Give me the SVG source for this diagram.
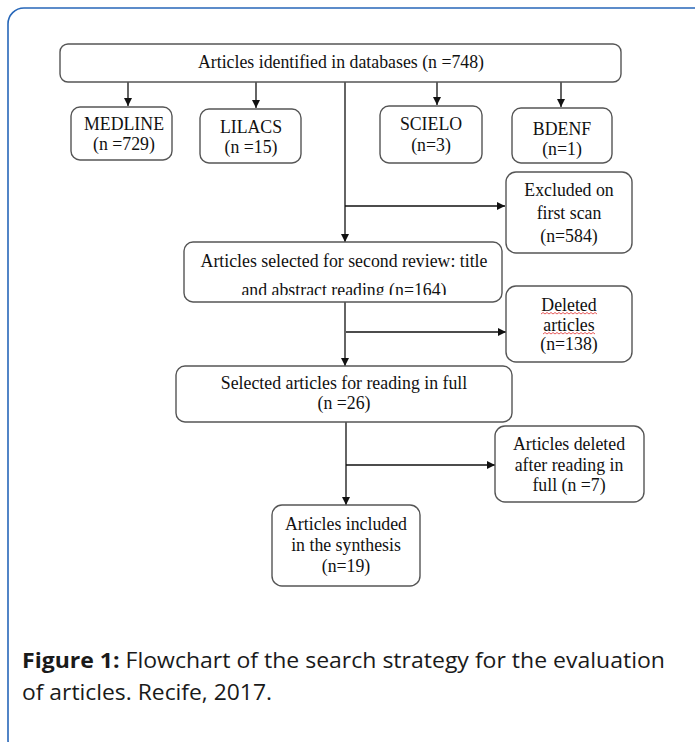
<svg xmlns="http://www.w3.org/2000/svg" width="695" height="742" viewBox="0 0 695 742">
<defs>
<style>
.frame{fill:#fff;stroke:#2767b9;stroke-width:1.6}
.box{fill:#fff;stroke:#555;stroke-width:1.4}
.t{font-family:"Liberation Serif","Times New Roman",serif;font-size:17.8px;fill:#111;text-anchor:middle}
.ln{stroke:#111;stroke-width:1.3;fill:none}
.cap{font-family:"Open Sans","Noto Sans",sans-serif;font-size:21.5px;fill:#1a1a1a}
.sq{stroke:#e03030;stroke-width:0.8;fill:none}
</style>
<marker id="ah" viewBox="0 0 10 10" refX="10" refY="5" markerWidth="8" markerHeight="8" markerUnits="userSpaceOnUse" orient="auto">
<path d="M0,0 L10,5 L0,10 z" fill="#111"/>
</marker>
<clipPath id="clip2"><rect x="184" y="242" width="318" height="53"/></clipPath>
</defs>
<rect class="frame" x="8" y="8" width="705" height="748" rx="16"/>

<g id="connectors">
<line class="ln" x1="128" y1="82" x2="128" y2="106" marker-end="url(#ah)"/>
<line class="ln" x1="256" y1="82" x2="256" y2="108" marker-end="url(#ah)"/>
<line class="ln" x1="437" y1="82" x2="437" y2="105" marker-end="url(#ah)"/>
<line class="ln" x1="561" y1="82" x2="561" y2="107" marker-end="url(#ah)"/>
<line class="ln" x1="345" y1="82" x2="345" y2="242" marker-end="url(#ah)"/>
<line class="ln" x1="345" y1="206" x2="505" y2="206" marker-end="url(#ah)"/>
<line class="ln" x1="345" y1="302" x2="345" y2="366" marker-end="url(#ah)"/>
<line class="ln" x1="346" y1="332" x2="506" y2="332" marker-end="url(#ah)"/>
<line class="ln" x1="346" y1="422" x2="346" y2="505" marker-end="url(#ah)"/>
<line class="ln" x1="346" y1="465" x2="495" y2="465" marker-end="url(#ah)"/>
</g>

<g id="identified">
<rect class="box" x="60" y="44" width="561" height="38" rx="8"/>
<text class="t" x="341" y="68">Articles identified in databases (n =748)</text>
</g>
<g id="medline">
<rect class="box" x="71" y="107" width="101" height="53" rx="9"/>
<text class="t" x="124" y="130">MEDLINE</text>
<text class="t" x="124" y="150">(n =729)</text>
</g>
<g id="lilacs">
<rect class="box" x="200" y="109" width="101" height="54" rx="9"/>
<text class="t" x="251" y="133">LILACS</text>
<text class="t" x="251" y="153">(n =15)</text>
</g>
<g id="scielo">
<rect class="box" x="380" y="106" width="102" height="57" rx="9"/>
<text class="t" x="431" y="130">SCIELO</text>
<text class="t" x="431" y="151">(n=3)</text>
</g>
<g id="bdenf">
<rect class="box" x="512" y="108" width="100" height="55" rx="9"/>
<text class="t" x="562" y="135">BDENF</text>
<text class="t" x="562" y="155">(n=1)</text>
</g>
<g id="excluded">
<rect class="box" x="506" y="172" width="126" height="81" rx="10"/>
<text class="t" x="569" y="196">Excluded on</text>
<text class="t" x="569" y="219">first scan</text>
<text class="t" x="569" y="242">(n=584)</text>
</g>
<g id="second">
<rect class="box" x="184" y="242" width="318" height="60" rx="9"/>
<text class="t" x="344" y="267">Articles selected for second review: title</text>
<text class="t" x="344" y="296" clip-path="url(#clip2)">and abstract reading (n=164)</text>
</g>
<g id="deleted">
<rect class="box" x="506" y="286" width="126" height="76" rx="10"/>
<text class="t" x="569" y="311">Deleted</text>
<text class="t" x="569" y="331">articles</text>
<text class="t" x="569" y="350">(n=138)</text>
<path class="sq" d="M541,314 l2,-1.5 l2,1.5 l2,-1.5 l2,1.5 l2,-1.5 l2,1.5 l2,-1.5 l2,1.5 l2,-1.5 l2,1.5 l2,-1.5 l2,1.5 l2,-1.5 l2,1.5 l2,-1.5 l2,1.5 l2,-1.5 l2,1.5 l2,-1.5 l2,1.5 l2,-1.5 l2,1.5 l2,-1.5 l2,1.5 l2,-1.5 l2,1.5 l2,-1.5 l2,1.5"/>
<path class="sq" d="M543,334 l2,-1.5 l2,1.5 l2,-1.5 l2,1.5 l2,-1.5 l2,1.5 l2,-1.5 l2,1.5 l2,-1.5 l2,1.5 l2,-1.5 l2,1.5 l2,-1.5 l2,1.5 l2,-1.5 l2,1.5 l2,-1.5 l2,1.5 l2,-1.5 l2,1.5 l2,-1.5 l2,1.5 l2,-1.5 l2,1.5 l2,-1.5 l2,1.5"/>
</g>
<g id="fullreading">
<rect class="box" x="176" y="366" width="336" height="56" rx="9"/>
<text class="t" x="344" y="389">Selected articles for reading in full</text>
<text class="t" x="344" y="409">(n =26)</text>
</g>
<g id="deletedfull">
<rect class="box" x="495" y="426" width="149" height="76" rx="10"/>
<text class="t" x="569" y="450">Articles deleted</text>
<text class="t" x="569" y="471">after reading in</text>
<text class="t" x="569" y="491">full (n =7)</text>
</g>
<g id="included">
<rect class="box" x="272" y="505" width="148" height="81" rx="10"/>
<text class="t" x="346" y="530">Articles included</text>
<text class="t" x="346" y="551">in the synthesis</text>
<text class="t" x="346" y="572">(n=19)</text>
</g>

<g id="caption">
<text class="cap" x="22" y="668" textLength="643" lengthAdjust="spacingAndGlyphs"><tspan font-weight="bold">Figure 1:</tspan> Flowchart of the search strategy for the evaluation</text>
<text class="cap" x="22" y="700" textLength="250" lengthAdjust="spacingAndGlyphs">of articles. Recife, 2017.</text>
</g>
</svg>
